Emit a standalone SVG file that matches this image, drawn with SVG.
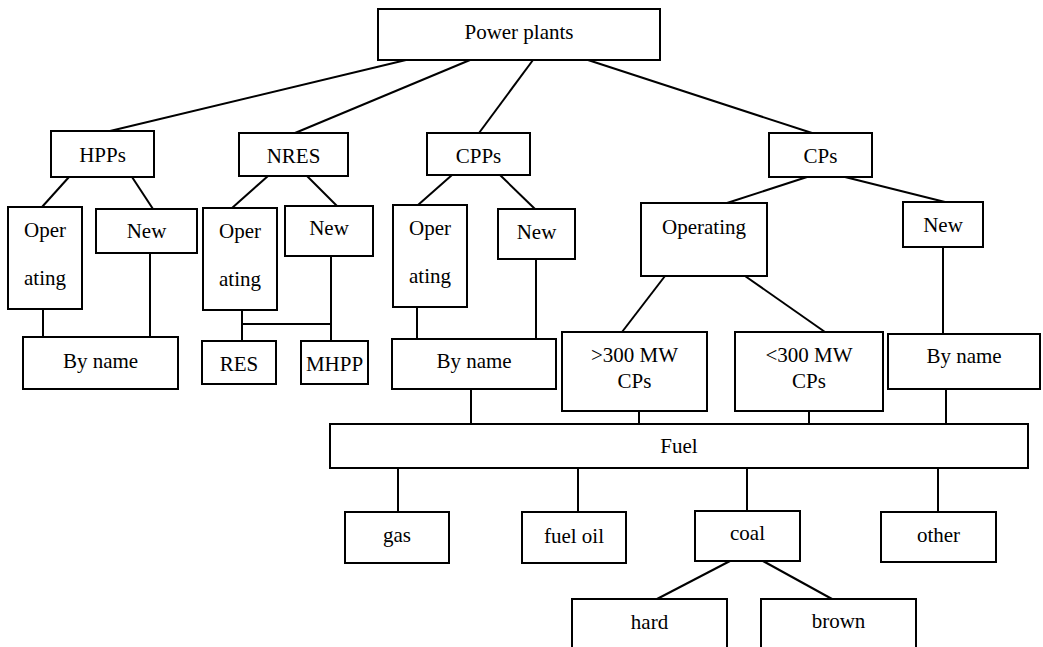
<svg xmlns="http://www.w3.org/2000/svg" width="1043" height="647" viewBox="0 0 1043 647">
<style>
rect{fill:#fff;stroke:#000;stroke-width:2}
line{stroke:#000;stroke-width:2}
text{font-family:'Liberation Serif',Tinos,'Times New Roman','DejaVu Serif',serif;font-size:21px;fill:#000;text-anchor:middle}
</style>
<rect x="0" y="0" width="1043" height="647" style="stroke:none"/>
<g id="connectors">
<line x1="406" y1="60" x2="110" y2="131"/>
<line x1="470" y1="60" x2="295" y2="133"/>
<line x1="533" y1="60" x2="479" y2="133"/>
<line x1="588" y1="60" x2="812" y2="133"/>
<line x1="69" y1="177" x2="42" y2="207"/>
<line x1="132" y1="177" x2="153" y2="209"/>
<line x1="268" y1="176" x2="232" y2="208"/>
<line x1="307" y1="176" x2="337" y2="206"/>
<line x1="452" y1="175" x2="418" y2="205"/>
<line x1="500" y1="175" x2="535" y2="209"/>
<line x1="807" y1="177" x2="727" y2="203"/>
<line x1="845" y1="177" x2="945" y2="202"/>
<line x1="43" y1="309" x2="43" y2="337"/>
<line x1="150" y1="253" x2="150" y2="337"/>
<line x1="242" y1="310" x2="242" y2="341"/>
<line x1="242" y1="324" x2="330" y2="324"/>
<line x1="331" y1="256" x2="331" y2="341"/>
<line x1="417" y1="307" x2="417" y2="339"/>
<line x1="536" y1="259" x2="536" y2="339"/>
<line x1="665" y1="276" x2="622" y2="332"/>
<line x1="745" y1="276" x2="825" y2="332"/>
<line x1="943" y1="247" x2="943" y2="334"/>
<line x1="471" y1="389" x2="471" y2="424"/>
<line x1="639" y1="411" x2="639" y2="424"/>
<line x1="809" y1="411" x2="809" y2="424"/>
<line x1="946" y1="389" x2="946" y2="424"/>
<line x1="398" y1="468" x2="398" y2="512"/>
<line x1="578" y1="468" x2="578" y2="512"/>
<line x1="747" y1="468" x2="747" y2="511"/>
<line x1="938" y1="468" x2="938" y2="512"/>
<line x1="730" y1="561" x2="657" y2="599"/>
<line x1="763" y1="561" x2="832" y2="599"/>
</g>
<g font-family="Liberation Serif, serif">
<g id="power-plants"><rect x="378" y="9" width="282" height="51"/><text x="519" y="39">Power plants</text></g>
<g id="hpps"><rect x="51" y="131" width="103" height="46"/><text x="102.5" y="162">HPPs</text></g>
<g id="nres"><rect x="239" y="133" width="109" height="43"/><text x="293.5" y="163">NRES</text></g>
<g id="cpps"><rect x="427" y="133" width="103" height="42"/><text x="478.5" y="163">CPPs</text></g>
<g id="cps"><rect x="769" y="133" width="103" height="44"/><text x="820.5" y="163">CPs</text></g>
<g id="hpps-operating"><rect x="8" y="207" width="74" height="102"/><text x="45" y="237">Oper</text><text x="45" y="285">ating</text></g>
<g id="hpps-new"><rect x="96" y="209" width="101" height="44"/><text x="146.5" y="238">New</text></g>
<g id="nres-operating"><rect x="203" y="208" width="74" height="102"/><text x="240" y="238">Oper</text><text x="240" y="286">ating</text></g>
<g id="nres-new"><rect x="285" y="206" width="88" height="50"/><text x="329" y="235">New</text></g>
<g id="cpps-operating"><rect x="393" y="205" width="74" height="102"/><text x="430" y="235">Oper</text><text x="430" y="283">ating</text></g>
<g id="cpps-new"><rect x="498" y="209" width="77" height="50"/><text x="536.5" y="239">New</text></g>
<g id="cps-operating"><rect x="641" y="203" width="126" height="73"/><text x="704" y="234">Operating</text></g>
<g id="cps-new"><rect x="903" y="202" width="80" height="45"/><text x="943" y="232">New</text></g>
<g id="hpps-byname"><rect x="23" y="337" width="155" height="52"/><text x="100.5" y="368">By name</text></g>
<g id="res"><rect x="202" y="341" width="74" height="43"/><text x="239" y="371">RES</text></g>
<g id="mhpp"><rect x="301" y="341" width="67" height="43"/><text x="334.5" y="371">MHPP</text></g>
<g id="cpps-byname"><rect x="392" y="339" width="164" height="50"/><text x="474" y="368">By name</text></g>
<g id="cps-gt300"><rect x="562" y="332" width="145" height="79"/><text x="634.5" y="362">&gt;300 MW</text><text x="634.5" y="388">CPs</text></g>
<g id="cps-lt300"><rect x="735" y="332" width="148" height="79"/><text x="809" y="362">&lt;300 MW</text><text x="809" y="388">CPs</text></g>
<g id="cps-byname"><rect x="888" y="334" width="152" height="55"/><text x="964" y="363">By name</text></g>
<g id="fuel"><rect x="330" y="424" width="698" height="44"/><text x="679" y="453">Fuel</text></g>
<g id="gas"><rect x="345" y="512" width="104" height="51"/><text x="397" y="542">gas</text></g>
<g id="fuel-oil"><rect x="522" y="512" width="104" height="51"/><text x="574" y="543">fuel oil</text></g>
<g id="coal"><rect x="695" y="511" width="105" height="50"/><text x="747.5" y="540">coal</text></g>
<g id="other"><rect x="881" y="512" width="115" height="50"/><text x="938.5" y="542">other</text></g>
<g id="hard"><rect x="572" y="599" width="155" height="60"/><text x="649.5" y="629">hard</text></g>
<g id="brown"><rect x="761" y="599" width="155" height="60"/><text x="838.5" y="628">brown</text></g>
</g>
</svg>
